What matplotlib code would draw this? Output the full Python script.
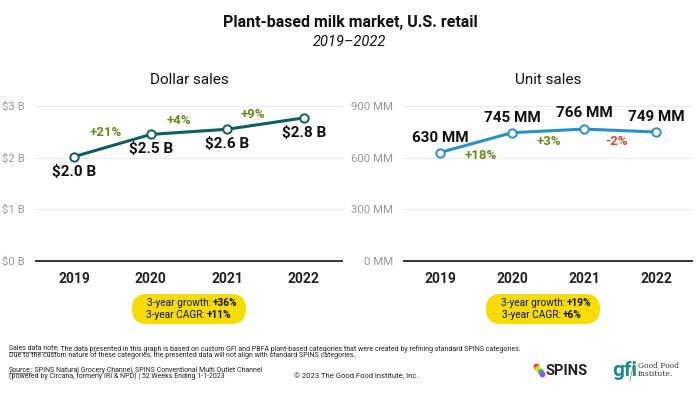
import matplotlib.pyplot as plt
from matplotlib.patches import FancyBboxPatch

plt.rcParams['font.family'] = ['Roboto', 'DejaVu Sans']

# data
years = ['2019', '2020', '2021', '2022']
dollar_sales = [2.02, 2.45, 2.55, 2.77]          # $ billions
dollar_labels = ['$2.0 B', '$2.5 B', '$2.6 B', '$2.8 B']
dollar_growth = ['+21%', '+4%', '+9%']
unit_sales = [630, 745, 766, 749]                 # millions of units
unit_labels = ['630 MM', '745 MM', '766 MM', '749 MM']
unit_growth = ['+18%', '+3%', '-2%']
dollar_ticks = [0, 1, 2, 3]
dollar_ticklabels = ['$0 B', '$1 B', '$2 B', '$3 B']
unit_ticks = [0, 300, 600, 900]
unit_ticklabels = ['0 MM', '300 MM', '600 MM', '900 MM']

W, H = 700, 396
GREEN = '#6b8a1e'
RED = '#c4502e'
YELLOW = '#f6dc00'


def px(x, y):
    return x / W, 1 - y / H


fig = plt.figure(figsize=(7, 3.96), dpi=100)
fig.patch.set_facecolor('white')

# full-figure layer in pixel units for the pills
bg = fig.add_axes([0, 0, 1, 1])
bg.set_xlim(0, W)
bg.set_ylim(H, 0)
bg.axis('off')

fig.text(*px(350, 22), 'Plant-based milk market, U.S. retail', ha='center', va='center',
         fontsize=11.5, fontweight='bold', color='#111111')
fig.text(*px(350, 42), '2019\u20132022', ha='center', va='center', fontsize=10.5,
         style='italic', color='#111111')


def panel(rect, values, labels, growth, ticks, ticklabels, color, title,
          label_dy, growth_dx, growth_dy):
    ax = fig.add_axes(rect)
    x = list(range(len(values)))
    ax.set_xlim(-0.5, 3.5)
    ax.set_ylim(ticks[0], ticks[-1])
    for t in ticks[1:]:
        ax.axhline(t, color='#ececec', lw=0.8, zorder=0, clip_on=False)
    ax.axhline(ticks[0], color='#333333', lw=1.4, zorder=1, clip_on=False)
    ax.plot(x, values, color=color, lw=2.2, zorder=3, clip_on=False,
            marker='o', ms=6, mfc='white', mec=color, mew=1.4)
    for s in ax.spines.values():
        s.set_visible(False)
    ax.set_xticks(x)
    ax.set_xticklabels(years, fontsize=10, fontweight='bold', color='#222222')
    ax.tick_params(axis='x', length=0, pad=8)
    ax.set_yticks(ticks)
    ax.set_yticklabels(ticklabels, fontsize=8.2, color='#999999')
    ax.tick_params(axis='y', length=0, pad=8)
    ax.set_title(title, fontsize=11, color='#111111', pad=16)
    for i, (v, lab) in enumerate(zip(values, labels)):
        ax.annotate(lab, (i, v), xytext=(0, label_dy[i]), textcoords='offset pixels',
                    ha='center', va='center', fontsize=11, fontweight='bold',
                    color='#111111')
    for i, g in enumerate(growth):
        mid = (values[i] + values[i + 1]) / 2
        c = RED if g.startswith('-') else GREEN
        ax.annotate(g, (i + 0.5, mid), xytext=(growth_dx[i], growth_dy[i]),
                    textcoords='offset pixels', ha='center', va='center',
                    fontsize=9.5, fontweight='bold', color=c)
    return ax


panel([36 / W, 1 - 261 / H, 306 / W, 155 / H], dollar_sales, dollar_labels,
      dollar_growth, dollar_ticks, dollar_ticklabels, '#0e5f5e', 'Dollar sales',
      [-15, -15, -15, -15], [-7, -10, -13], [13, 11, 9])
panel([404 / W, 1 - 261 / H, 288 / W, 155 / H], unit_sales, unit_labels,
      unit_growth, unit_ticks, unit_ticklabels, '#2a90c8', 'Unit sales',
      [15, 15, 16, 15], [5, 1, -3], [-13, -11, -11])


def pill(cx, cy, lines):
    w, h = 114, 30
    box = FancyBboxPatch((cx - w / 2, cy - h / 2), w, h,
                         boxstyle='round,pad=0,rounding_size=15',
                         fc=YELLOW, ec='none')
    bg.add_patch(box)
    for (normal, bold, split), dy in zip(lines, (-6, 6)):
        fig.text(*px(cx + split, cy + dy), normal, ha='right', va='center',
                 fontsize=7.3, color='#111111')
        fig.text(*px(cx + split + 2, cy + dy), bold, ha='left', va='center',
                 fontsize=7.3, fontweight='bold', color='#111111')


pill(189, 309, [('3-year growth:', '+36%', 22), ('3-year CAGR:', '+11%', 16)])
pill(543, 309, [('3-year growth:', '+19%', 22), ('3-year CAGR:', '+6%', 18)])


def underlined_lead(x, y, lead, rest):
    t = fig.text(*px(x, y), lead, fontsize=5, va='center', color='#222222')
    a = fig.text(0, 0, rest, fontsize=5, va='center', color='#222222')
    fig.canvas.draw()
    bb = t.get_window_extent()
    a.set_position(((bb.x1) / W, 1 - y / H))
    fig.add_artist(plt.Line2D([bb.x0 / W, bb.x1 / W], [(bb.y0 + 0.5) / H] * 2,
                              lw=0.4, color='#222222'))


# footer
underlined_lead(9, 349, 'Sales data note', ': The data presented in this graph is based on custom GFI and '
                'PBFA plant-based categories that were created by refining standard SPINS categories.')
fig.text(*px(9, 355.5), 'Due to the custom nature of these categories, the presented data will not align '
         'with standard SPINS categories.', fontsize=5, va='center', color='#222222')
underlined_lead(9, 370, 'Source', ': SPINS Natural Grocery Channel, SPINS Conventional Multi Outlet Channel')
fig.text(*px(9, 376.5), '(powered by Circana, formerly IRI & NPD) | 52 Weeks Ending 1-1-2023',
         fontsize=5, va='center', color='#222222')
fig.text(*px(294, 376), '\u00a9 2023 The Good Food Institute, Inc.', fontsize=5.5,
         va='center', color='#222222')

# logos (text approximations)
fig.text(*px(545, 371), 'SPINS', fontsize=10.5, fontweight='bold', va='center', color='#222222')
for k, c in enumerate(['#e63b2e', '#f5a623', '#f8e71c', '#7ed321', '#2aa7df', '#9b51e0']):
    fig.add_artist(plt.Line2D([(536 + k * 1.2) / W], [1 - (366 + k * 1.6) / H], marker='o',
                              ms=3.2, color=c, lw=0))
fig.text(*px(612, 370), 'gfi', fontsize=15, fontweight='bold', va='center', color='#1f8f86')
fig.add_artist(plt.Line2D([634 / W, 630 / W], [1 - 361 / H, 1 - 381 / H], lw=0.5, color='#777777'))
fig.text(*px(638, 366), 'Good Food', fontsize=5.5, va='center', color='#333333', family='DejaVu Serif')
fig.text(*px(638, 374), 'Institute.', fontsize=5.5, va='center', color='#333333', family='DejaVu Serif')

fig.savefig('out.png', dpi=100, facecolor='white')
